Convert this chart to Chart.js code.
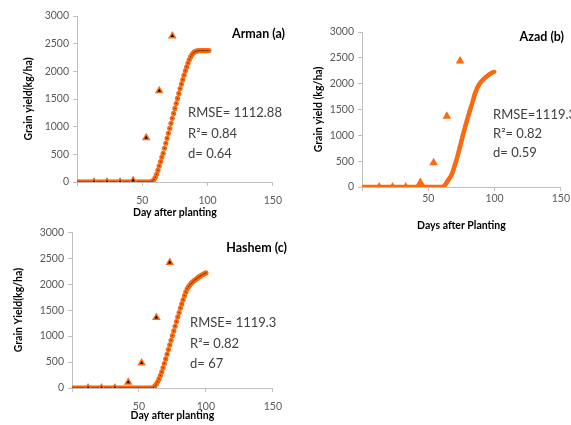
<!DOCTYPE html>
<html>
<head>
<meta charset="utf-8">
<script src="https://cdn.jsdelivr.net/npm/chart.js@4/dist/chart.umd.min.js"></script>
<style>
  body { margin: 0; background: #fff; }
  #wrap { position: relative; width: 571px; height: 425px; overflow: hidden; }
  canvas { position: absolute; }
</style>
</head>
<body>
<div id="wrap">
  <canvas id="arman" width="290" height="222" style="left:0;top:0"></canvas>
  <canvas id="azad" width="281" height="240" style="left:290px;top:0"></canvas>
  <canvas id="hashem" width="290" height="203" style="left:0;top:222px"></canvas>
</div>
<script>
// Simulated grain yield, one value per day after planting
const modelDays = [0,1,2,3,4,5,6,7,8,9,10,11,12,13,14,15,16,17,18,19,20,21,22,23,24,25,26,27,28,29,
  30,31,32,33,34,35,36,37,38,39,40,41,42,43,44,45,46,47,48,49,50,51,52,53,54,55,56,57,58,59,
  60,61,62,63,64,65,66,67,68,69,70,71,72,73,74,75,76,77,78,79,80,81,82,83,84,85,86,87,88,89,
  90,91,92,93,94,95,96,97,98,99,100,101];

const armanModel = [0,0,0,0,0,0,0,0,0,0,0,0,0,0,0,0,0,0,0,0,0,0,0,0,0,0,0,0,0,0,
  0,0,0,0,0,0,0,0,0,0,0,0,0,0,0,0,0,0,0,0,0,0,0,0,0,0,0,5,20,45,
  85,140,210,290,370,450,520,610,700,790,880,970,1060,1150,1240,1330,1420,1510,1600,1690,
  1770,1850,1930,2010,2080,2150,2210,2260,2300,2330,2350,2362,2368,2372,
  2375,2375,2375,2375,2375,2375,2375,2375];

const azadModel = [0,0,0,0,0,0,0,0,0,0,0,0,0,0,0,0,0,0,0,0,0,0,0,0,0,0,0,0,0,0,
  0,0,0,0,0,0,0,0,0,0,0,0,0,0,0,0,0,0,0,0,0,0,0,0,0,0,0,0,0,0,0,0,
  20,50,90,130,170,210,260,340,420,500,590,690,790,890,990,1090,1180,1270,1360,1450,
  1530,1610,1700,1790,1860,1920,1970,2010,2040,2070,2095,2120,2140,2160,2180,2195,2210,2222,2232];

const hashemModel = [0,0,0,0,0,0,0,0,0,0,0,0,0,0,0,0,0,0,0,0,0,0,0,0,0,0,0,0,0,0,
  0,0,0,0,0,0,0,0,0,0,0,0,0,0,0,0,0,0,0,0,0,0,0,0,0,0,0,0,0,0,0,
  15,40,75,120,175,240,310,390,470,560,650,740,830,920,1010,1100,1190,1280,1370,1455,
  1540,1620,1700,1780,1850,1910,1950,1985,2015,2040,2065,2085,2105,2125,2145,2160,2175,2190,2205,2217];

// Observed yields
const armanObsDays = [13, 23, 33, 43, 53, 63, 73];
const armanObs = [0, 0, 0, 25, 800, 1650, 2640];
const azadObsDays = [13, 23, 33, 44, 54, 64, 74];
const azadObs = [0, 0, 0, 85, 470, 1370, 2440];
const hashemObsDays = [12, 22, 32, 42, 52, 63, 73];
const hashemObs = [0, 0, 0, 110, 480, 1360, 2420];

const xTicks = [0, 50, 100, 150];
const yTicks = [0, 500, 1000, 1500, 2000, 2500, 3000];

const ORANGE = '#fa6a10';
const AXIS = '#bfbfbf';
const FONT = 'Lato, "Open Sans", sans-serif';

function pairs(xs, ys) {
  return ys.map((v, i) => ({ x: xs[i], y: v }));
}

// Panel title and fit statistics written inside the plot
const panelText = {
  id: 'panelText',
  afterDraw(chart, args, opts) {
    const ctx = chart.ctx;
    ctx.save();
    ctx.textBaseline = 'middle';
    ctx.fillStyle = '#000';
    ctx.font = 'bold 12.5px ' + FONT;
    ctx.textAlign = 'right';
    ctx.fillText(opts.title, opts.titleX, opts.titleY);
    ctx.fillStyle = '#404040';
    ctx.font = '13px ' + FONT;
    ctx.textAlign = 'left';
    opts.lines.forEach((t, i) => ctx.fillText(t, opts.textX, opts.textY + i * opts.gap));
    ctx.restore();
  }
};

function makeChart(id, cfg) {
  const datasets = [
    {
      data: pairs(modelDays, cfg.model),
      pointRadius: cfg.dots ? 2.6 : 2,
      pointBorderWidth: 0,
      pointBackgroundColor: ORANGE,
      // Azad's simulation is drawn as a solid thick curve
      showLine: !cfg.dots,
      borderColor: ORANGE,
      borderWidth: 4.5,
      order: 3
    },
    {
      data: pairs(cfg.obsDays, cfg.obs),
      pointStyle: 'triangle',
      pointRadius: 5,
      pointBorderWidth: 0,
      pointBackgroundColor: ORANGE,
      showLine: false,
      order: 1
    }
  ];
  if (cfg.dots) {
    datasets.push({
      data: pairs(modelDays, cfg.model),
      pointRadius: 0.7,
      pointBorderWidth: 0,
      pointBackgroundColor: '#7a2e00',
      showLine: false,
      order: 2
    });
    datasets.push({
      data: pairs(cfg.obsDays, cfg.obs),
      pointStyle: 'triangle',
      pointRadius: 2,
      pointBorderWidth: 0,
      pointBackgroundColor: '#000',
      showLine: false,
      order: 0
    });
  }

  return new Chart(document.getElementById(id), {
    type: 'scatter',
    data: { datasets },
    plugins: [panelText],
    options: {
      responsive: false,
      animation: false,
      layout: { padding: cfg.padding },
      plugins: {
        legend: { display: false },
        tooltip: { enabled: false },
        panelText: cfg.text
      },
      scales: {
        x: {
          type: 'linear',
          min: 0,
          max: 150,
          afterBuildTicks: s => { s.ticks = xTicks.map(v => ({ value: v })); },
          afterFit: s => { s.height = cfg.xHeight; },
          ticks: {
            color: '#595959',
            font: { family: FONT, size: 10.5 },
            padding: cfg.xTickPad,
            maxRotation: 0,
            callback: v => (v === 0 ? '' : String(v))
          },
          grid: { drawOnChartArea: false, tickLength: 4, color: AXIS },
          border: { color: AXIS },
          title: {
            display: true,
            text: cfg.xTitle,
            color: '#000',
            font: { family: FONT, size: 10.5, weight: 'bold' },
            padding: { top: 0, bottom: cfg.xTitlePad }
          }
        },
        y: {
          min: 0,
          max: 3000,
          afterBuildTicks: s => { s.ticks = yTicks.map(v => ({ value: v })); },
          afterFit: s => { s.width = cfg.yWidth; },
          ticks: {
            color: '#595959',
            font: { family: FONT, size: 10.5 },
            padding: 4,
            callback: v => String(v)
          },
          grid: { drawOnChartArea: false, tickLength: 4, color: AXIS },
          border: { color: AXIS },
          title: {
            display: true,
            text: cfg.yTitle,
            color: '#000',
            font: { family: FONT, size: 10.5, weight: 'bold' },
            padding: { top: cfg.yTitlePad, bottom: 0 }
          }
        }
      }
    }
  });
}

makeChart('arman', {
  model: armanModel, obsDays: armanObsDays, obs: armanObs, dots: true,
  padding: { top: 16, right: 17, left: 0, bottom: 0 },
  yWidth: 77, xHeight: 40, xTickPad: 8, xTitlePad: 3, yTitlePad: 22,
  xTitle: 'Day after planting', yTitle: 'Grain yield(kg/ha)',
  text: { title: 'Arman (a)', titleX: 285, titleY: 34,
          lines: ['RMSE= 1112.88', 'R²= 0.84', 'd= 0.64'], textX: 188, textY: 113, gap: 20.5 }
});

makeChart('azad', {
  model: azadModel, obsDays: azadObsDays, obs: azadObs, dots: false,
  padding: { top: 32, right: 9, left: 0, bottom: 0 },
  yWidth: 72, xHeight: 53, xTickPad: 1, xTitlePad: 8, yTitlePad: 22,
  xTitle: 'Days after Planting', yTitle: 'Grain yield (kg/ha)',
  text: { title: 'Azad (b)', titleX: 274, titleY: 37,
          lines: ['RMSE=1119.32', 'R²= 0.82', 'd= 0.59'], textX: 203, textY: 115, gap: 19 }
});

makeChart('hashem', {
  model: hashemModel, obsDays: hashemObsDays, obs: hashemObs, dots: true,
  padding: { top: 9, right: 17, left: 0, bottom: 0 },
  yWidth: 72, xHeight: 37, xTickPad: 8, xTitlePad: 3, yTitlePad: 12,
  xTitle: 'Day after planting', yTitle: 'Grain Yield(kg/ha)',
  text: { title: 'Hashem (c)', titleX: 287, titleY: 26,
          lines: ['RMSE= 1119.3', 'R²= 0.82', 'd= 67'], textX: 190, textY: 101, gap: 20.5 }
});
</script>
</body>
</html>
